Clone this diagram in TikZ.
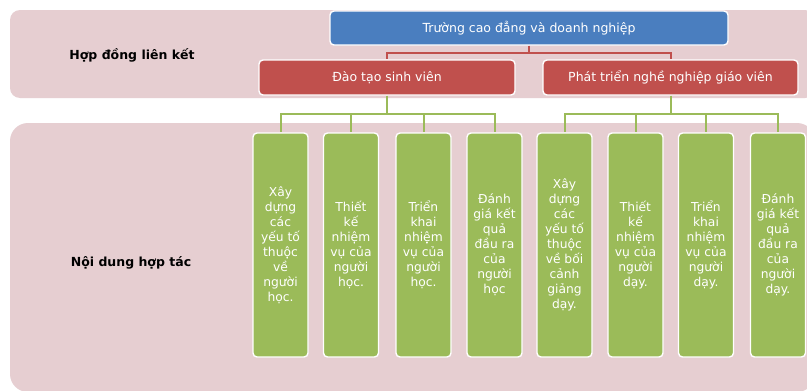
\documentclass[tikz,border=0pt]{standalone}
\usepackage{fontspec}
\setmainfont{DejaVu Sans}
\definecolor{pinkbg}{HTML}{E6CED1}
\definecolor{bluebox}{HTML}{4A7EBF}
\definecolor{redbox}{HTML}{C0504D}
\definecolor{greenbox}{HTML}{9BBB59}
\tikzset{
  boxbase/.style={rectangle, rounded corners=4pt, draw=white, line width=1.4pt, text=white, align=center, inner sep=0pt},
  topbox/.style={boxbase, fill=bluebox, minimum width=398pt, minimum height=34pt, font=\fontsize{12.5}{15}\selectfont},
  rednode/.style={boxbase, fill=redbox, minimum width=256pt, minimum height=35pt, font=\fontsize{12.5}{15}\selectfont},
  greennode/.style={boxbase, fill=greenbox, minimum width=55pt, minimum height=224pt, font=\fontsize{12.3}{15}\selectfont},
  redline/.style={draw=redbox, line width=2pt},
  greenline/.style={draw=greenbox, line width=2pt},
  bandlabel/.style={font=\bfseries\fontsize{12.5}{15}\selectfont, text=black}
}
\begin{document}
\begin{tikzpicture}[x=1pt,y=-1pt]
\useasboundingbox (0,0) rectangle (807,391);
\clip (0,0) rectangle (807,391);
\fill[white] (0,0) rectangle (807,391);
\fill[pinkbg, rounded corners=10pt] (10,10) rectangle (815,98);
\fill[pinkbg, rounded corners=18pt] (10,123) rectangle (815,392);
\node[bandlabel] (lbl1) at (132,55) {Hợp đồng liên kết};
\node[bandlabel] (lbl2) at (131,263) {Nội dung hợp tác};
\node[topbox] (top) at (529,28) {Trường cao đẳng và doanh nghiệp};
\node[rednode] (dL) at (387,77.5) {Đào tạo sinh viên};
\node[rednode, minimum width=255pt] (dR) at (670.5,77.5) {Phát triển nghề nghiệp giáo viên};
\node[greennode] (g1) at (280.5,245) {Xây\\dựng\\các\\yếu tố\\thuộc\\về\\người\\học.};
\node[greennode] (g2) at (351,245) {Thiết\\kế\\nhiệm\\vụ của\\người\\học.};
\node[greennode] (g3) at (423.5,245) {Triển\\khai\\nhiệm\\vụ của\\người\\học.};
\node[greennode] (g4) at (494.5,245) {Đánh\\giá kết\\quả\\đầu ra\\của\\người\\học};
\node[greennode] (g5) at (564.5,245) {Xây\\dựng\\các\\yếu tố\\thuộc\\về bối\\cảnh\\giảng\\dạy.};
\node[greennode] (g6) at (635.5,245) {Thiết\\kế\\nhiệm\\vụ của\\người\\dạy.};
\node[greennode] (g7) at (706,245) {Triển\\khai\\nhiệm\\vụ của\\người\\dạy.};
\node[greennode] (g8) at (778,245) {Đánh\\giá kết\\quả\\đầu ra\\của\\người\\dạy.};
\draw[redline] (top.south) -- ++(0,7) coordinate (j1) -| (dL.north);
\draw[redline] (j1) -| (dR.north);
\draw[greenline] (dL.south) -- ++(0,18) coordinate (j2);
\draw[greenline] (dR.south) -- ++(0,18) coordinate (j3);
\foreach \g in {g1,g2,g3,g4} \draw[greenline] (j2) -| (\g.north);
\foreach \g in {g5,g6,g7,g8} \draw[greenline] (j3) -| (\g.north);
\end{tikzpicture}
\end{document}
